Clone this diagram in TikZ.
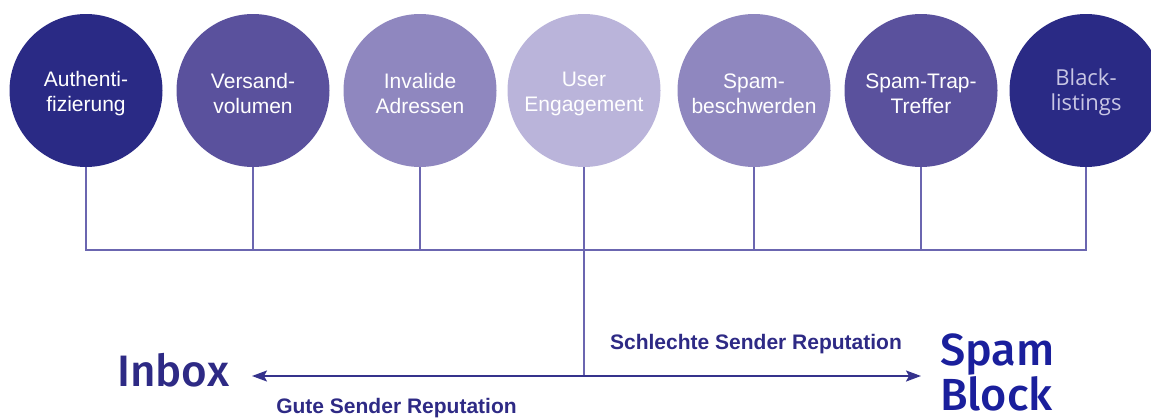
\documentclass[tikz,border=0pt]{standalone}
\usepackage{fontspec}
\setmainfont{Liberation Sans}
\newfontfamily\dinfont{Fira Sans Medium}
\newfontfamily\opfont{Open Sans}
\usetikzlibrary{arrows.meta}
\definecolor{cdark}{HTML}{2A2A85}
\definecolor{cmid}{HTML}{5A519D}
\definecolor{clight}{HTML}{8F87BF}
\definecolor{cpale}{HTML}{BAB4DA}
\definecolor{cline}{HTML}{6B66B0}
\definecolor{carrow}{HTML}{35328C}
\definecolor{cinbox}{HTML}{2E2A85}
\definecolor{cspam}{HTML}{1A1F9C}
\definecolor{cgraytxt}{HTML}{C8C6E4}
\begin{document}
\begin{tikzpicture}[x=1pt,y=-1pt,
  factor/.style={circle,minimum size=153pt,inner sep=0pt},
  factortext/.style={inner sep=0pt,text=white,align=center,
    font=\fontsize{21}{25}\selectfont},
  conn/.style={draw=cline,line width=2pt},
  flow/.style={draw=carrow,line width=2pt,-{Stealth[length=15pt,width=11pt,inset=3pt]}},
  big/.style={inner sep=0pt,anchor=base west,font=\dinfont\fontsize{44}{46}\selectfont},
  replabel/.style={inner sep=0pt,anchor=base,text=cinbox,font=\bfseries\fontsize{21}{21}\selectfont}]
\useasboundingbox (0,0) rectangle (1151,418);
\coordinate (barL) at (86,250);
\coordinate (barR) at (1086,250);
\coordinate (junc) at (584,376);
\coordinate (inTip) at (252,376);
\coordinate (spTip) at (921,376);
% circles
\node[factor,fill=cdark]  (c1) at (86,90.5)   {};
\node[factor,fill=cmid]   (c2) at (253,90.5)  {};
\node[factor,fill=clight] (c3) at (420,90.5)  {};
\node[factor,fill=cpale]  (c4) at (584,90.5)  {};
\node[factor,fill=clight] (c5) at (754,90.5)  {};
\node[factor,fill=cmid]   (c6) at (921,90.5)  {};
\node[factor,fill=cdark]  (c7) at (1086,90.5) {};
% circle texts
\node[factortext] (t1) at (86,93.5)   {Authenti-\\fizierung};
\node[factortext] (t2) at (253,93.5)  {Versand-\\volumen};
\node[factortext] (t3) at (420,93.5)  {Invalide\\Adressen};
\node[factortext] (t4) at (584,93.5)  {User\\Engagement};
\node[factortext] (t5) at (754,93.5)  {Spam-\\beschwerden};
\node[factortext] (t6) at (921,93.5)  {Spam-Trap-\\Treffer};
\node[factortext,text=cgraytxt,font=\opfont\fontsize{22}{25}\selectfont] (t7) at (1086,92) {Black-\\listings};
% connectors
\draw[conn] (c1.south) -- (barL) -- (barR) -- (c7.south);
\foreach \n in {c2,c3,c5,c6} \draw[conn] (\n.south) -- (\n.south |- barL);
\draw[conn] (c4.south) -- (junc);
\draw[flow] (junc) -- (inTip);
\draw[flow] (junc) -- (spTip);
% labels
\node[big,text=cinbox] (inbox) at (117,386) {Inbox};
\node[big,text=cspam,align=left,font=\dinfont\fontsize{45}{45}\selectfont] (spam) at (940,410) {Spam\\Block};
\node[replabel] (bad) at (756,349) {Schlechte Sender Reputation};
\node[replabel] (good) at (396.5,413) {Gute Sender Reputation};
\end{tikzpicture}
\end{document}
